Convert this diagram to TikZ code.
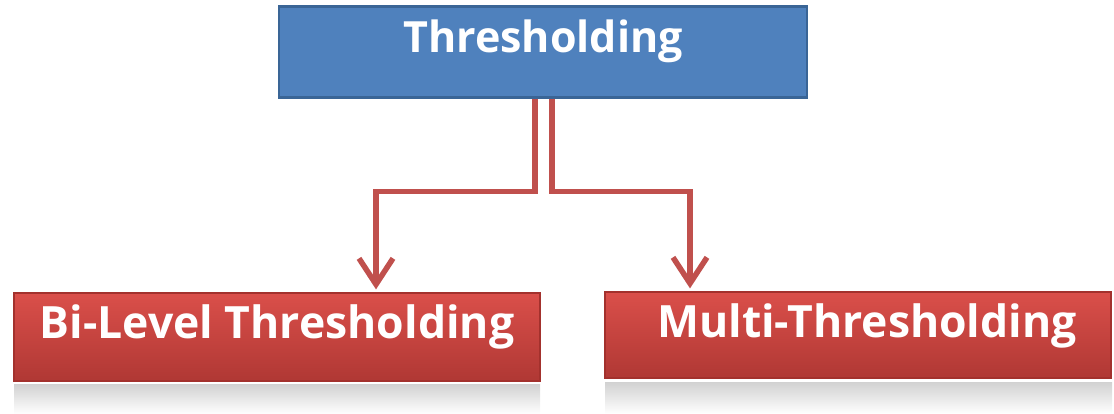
\documentclass[tikz,border=0pt]{standalone}
\usepackage{fontspec}
\setmainfont{Open Sans}
\usetikzlibrary{arrows.meta,calc}
\definecolor{bluefill}{HTML}{4F81BD}
\definecolor{blueedge}{HTML}{3A6596}
\definecolor{redtop}{HTML}{DA4F4A}
\definecolor{redbot}{HTML}{B03834}
\definecolor{rededge}{HTML}{A3312D}
\definecolor{conncol}{HTML}{C0504D}
\tikzset{
  topbox/.style={draw=blueedge, line width=2.5pt, fill=bluefill, minimum width=528pt, minimum height=91pt, inner sep=0pt,
    font=\fontsize{43}{43}\selectfont\bfseries, text=white, text height=32pt, text depth=30pt},
  redbox/.style={draw=rededge, line width=1.2pt, top color=redtop, bottom color=redbot, inner sep=0pt,
    font=\fontsize{44.5}{44.5}\selectfont\bfseries, text=white},
  conn/.style={draw=conncol, line width=5.5pt, line join=miter,
    -{Straight Barb[length=26pt, width=34pt, line width=5.5pt]}, shorten >=3pt},
  refl/.style={top color=black!18, bottom color=white, draw=none}
}
\begin{document}
\begin{tikzpicture}[x=1pt,y=-1pt]
\useasboundingbox (0,0) rectangle (1114,414);
% reflections
\fill[refl] (14,384) rectangle (540,414);
\fill[refl] (605,382) rectangle (1112,414);
\node[topbox] (T) at (543,52) {Thresholding};
\node[redbox, minimum width=526pt, minimum height=88pt, text height=33pt, text depth=31pt] (L) at (277,337) {Bi-Level Thresholding};
\node[redbox, minimum width=506pt, minimum height=86pt, text height=33pt, text depth=29pt] (R) at (858,335) {\hspace*{18pt}Multi-Thresholding};
\draw[conn] ([xshift=-8pt]T.south) -- ++(0,93) -| ([xshift=99pt]L.north);
\draw[conn] ([xshift=9pt]T.south) -- ++(0,93) -| ([xshift=-168pt]R.north);
\end{tikzpicture}
\end{document}
